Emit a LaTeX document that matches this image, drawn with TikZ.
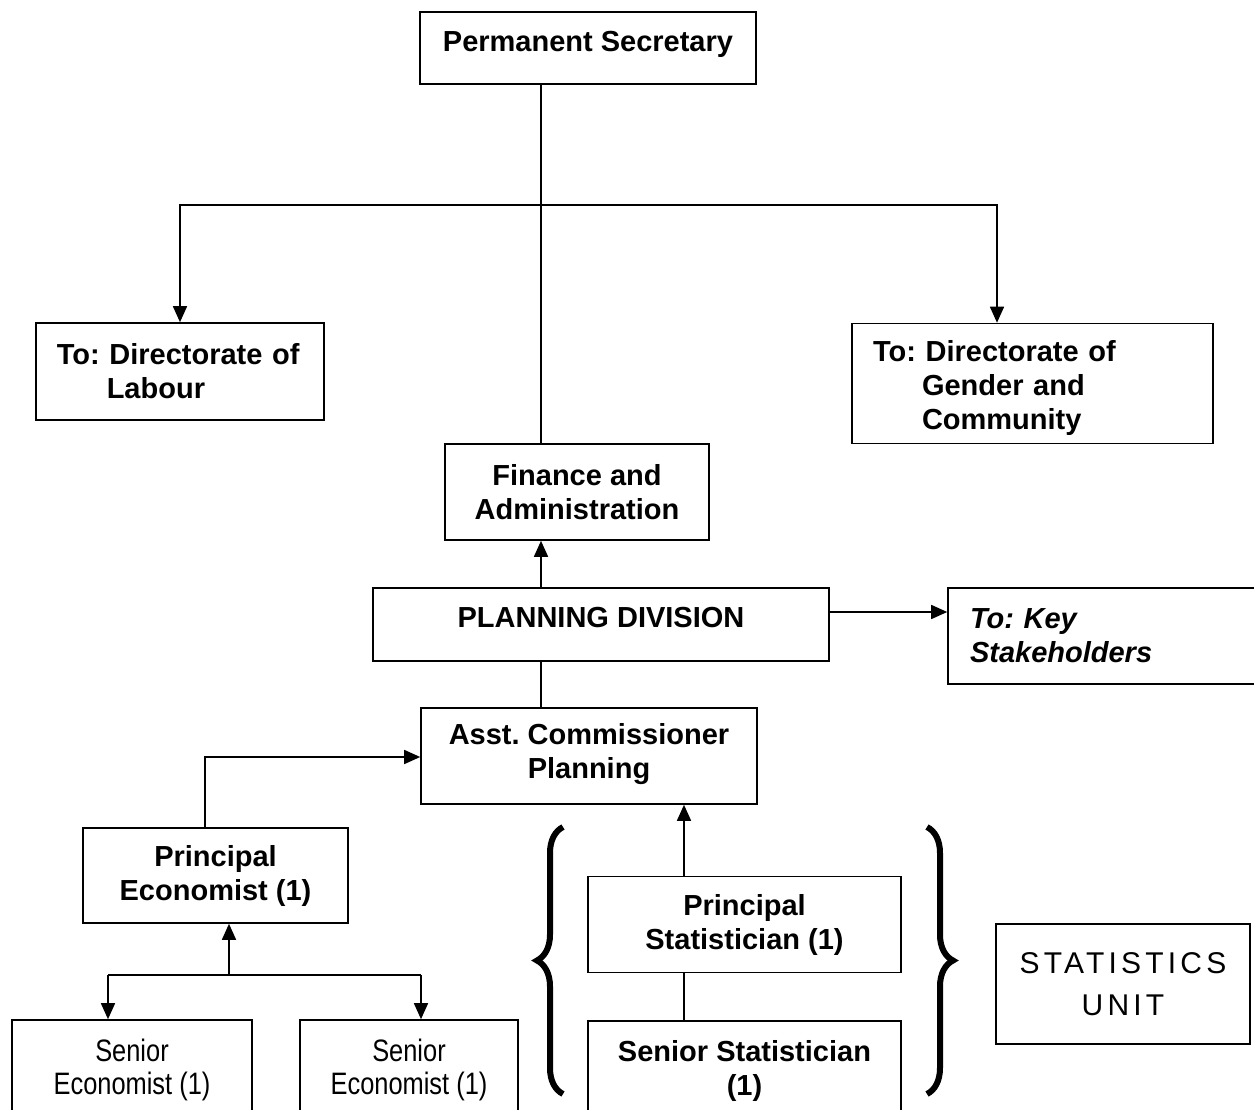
\documentclass[tikz,border=0pt]{standalone}
\usepackage{fontspec}
\setmainfont{Liberation Sans}
\newfontfamily\narrowfont[FakeStretch=0.82]{Liberation Sans}
\newfontfamily\spacedfont[LetterSpace=14]{Liberation Sans}
\usetikzlibrary{arrows.meta,decorations.pathreplacing}
\frenchspacing
\begin{document}
\frenchspacing
\begin{tikzpicture}[x=1pt,y=-1pt,
  box/.style={draw, line width=1.6pt, inner sep=0pt, align=center,
    font=\frenchspacing\fontsize{29}{34}\selectfont\bfseries},
  leftbox/.style={box, align=left, inner xsep=21pt},
  conn/.style={line width=1.6pt},
  arr/.style={conn, -{Triangle[width=14pt,length=16pt]}},
  bracestyle/.style={line width=6pt, decorate, decoration={brace, amplitude=26pt}}]
\clip (0,0) rectangle (1254,1110);
\fill[white] (0,0) rectangle (1254,1110);

% boxes
\node[box, minimum width=336, minimum height=72, text depth=14pt] (ps) at (588,48) {Permanent Secretary};
\node[leftbox, text width=246.5, minimum height=97] (lab) at (180,371.5)
  {To: Directorate of\\\hspace*{50pt}Labour};
\node[leftbox, text width=319, minimum height=120] (gen) at (1032.5,383.5)
  {\rule{0pt}{31pt}To: Directorate of\\\hspace*{49pt}Gender and\\\hspace*{49pt}Community};
\node[box, minimum width=264, minimum height=96] (fin) at (577,492) {Finance and\\Administration};
\node[box, minimum width=456, minimum height=73, text depth=14pt] (plan) at (601,624.5) {PLANNING DIVISION};
\node[box, align=left, inner xsep=22pt, text width=278, minimum height=96,
  font=\frenchspacing\fontsize{29}{34}\selectfont\bfseries\itshape] (key) at (1109,636)
  {To: Key\\Stakeholders};
\node[box, minimum width=336, minimum height=96, text depth=10pt] (asst) at (589,756) {Asst. Commissioner\\Planning};
\node[box, minimum width=265, minimum height=95] (pe) at (215.5,875.5) {Principal\\Economist (1)};
\node[box, minimum width=240, minimum height=100, font=\fontsize{31}{33}\narrowfont] (se1) at (132,1070) {Senior\\Economist (1)};
\node[box, minimum width=218, minimum height=100, font=\fontsize{31}{33}\narrowfont] (se2) at (409,1070) {Senior\\Economist (1)};
\node[box, minimum width=313, minimum height=96] (pst) at (744.5,924.5) {Principal\\Statistician (1)};
\node[box, minimum width=313, minimum height=100] (sst) at (744.5,1071) {Senior Statistician\\(1)};
\node[box, minimum width=254, minimum height=120, font=\fontsize{30}{42}\selectfont\spacedfont] (su) at (1123,984) {\rule{0pt}{16pt}STATISTICS\\UNIT};

% junction coordinates
\coordinate (j0) at (541,205);
\coordinate (j1) at (997,205);
\coordinate (ky) at (900,612);
\coordinate (pe1) at (205,757);
\coordinate (se0) at (229,975);
\coordinate (se1a) at (108,975);
\coordinate (se2a) at (421,975);
\coordinate (st) at (684,850);

% connectors
\draw[conn] (ps.south -| j0) -- (fin.north -| j0);
\draw[arr] (j0) -| (lab.north);
\draw[arr] (j0) -- (j1) -- (j1 |- gen.north);
\draw[arr] (plan.north -| j0) -- (fin.south -| j0);
\draw[arr] (plan.east |- ky) -- (key.west |- ky);
\draw[conn] (plan.south -| j0) -- (asst.north -| j0);
\draw[arr] (pe.north -| pe1) |- (asst.west |- pe1);
\draw[arr] (se0) -- (pe.south -| se0);
\draw[arr] (se1a) -- (se1.north -| se1a);
\draw[conn] (se1a) -- (se2a);
\draw[arr] (se2a) -- (se2.north -| se2a);
\draw[arr] (pst.north -| st) -- (asst.south -| st);
\draw[conn] (pst.south -| st) -- (sst.north -| st);

% braces
\coordinate (lb1) at (563,1094);
\coordinate (lb2) at (563,827);
\coordinate (rb1) at (927,827);
\coordinate (rb2) at (927,1094);
\draw[bracestyle] (lb1) -- (lb2);
\draw[bracestyle] (rb1) -- (rb2);
\end{tikzpicture}
\end{document}
